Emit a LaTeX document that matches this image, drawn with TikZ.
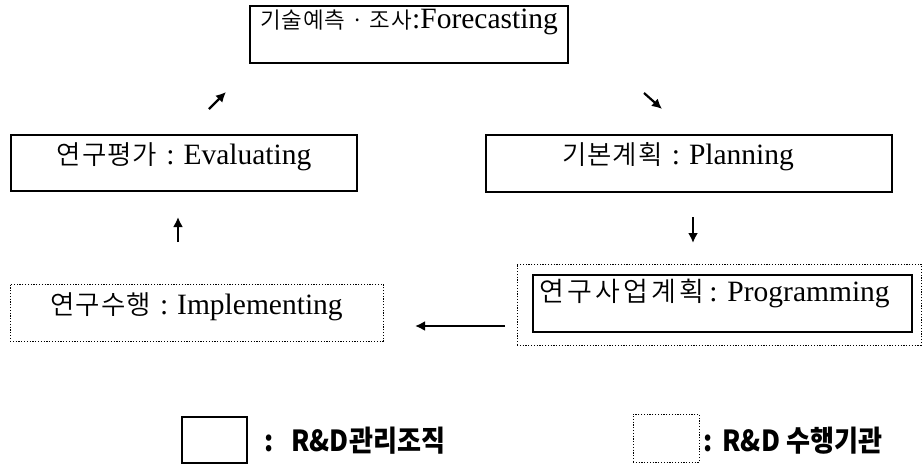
\documentclass[tikz,border=0pt]{standalone}
\usepackage{fontspec}
\setmainfont{Liberation Serif}
\newfontfamily\kr{Noto Sans CJK KR}[UprightFont=* DemiLight, LetterSpace=4]
\newfontfamily\krw{Noto Sans CJK KR}[UprightFont=* DemiLight, LetterSpace=12]
\newfontfamily\krb{Noto Sans CJK KR}[FakeStretch=0.9]
\usetikzlibrary{arrows.meta}
\newcommand\KR[2]{{\fontsize{#1}{#1}\selectfont\kr #2}}
\newcommand\KRW[2]{{\fontsize{#1}{#1}\selectfont\krw #2}}
\newcommand\sep{\hspace{9pt}:\hspace{9pt}}
\tikzset{
  sbox/.style={draw=black, line width=1.2pt, inner sep=0pt},
  dbox/.style={draw=black, line width=0.9pt, dash pattern=on 1.2pt off 1.6pt, inner sep=0pt},
  lbl/.style={font=\fontsize{29.5}{32}\selectfont},
  legt/.style={inner sep=0pt, anchor=west, font=\fontsize{29}{32}\selectfont\krb\bfseries},
  arr/.style={line width=2.2pt, -{Latex[length=10pt,width=10pt]}}
}
\begin{document}
\begin{tikzpicture}[x=1pt,y=-1pt]
\useasboundingbox (0,0) rectangle (922,466);
% boxes
\node[sbox, lbl, anchor=base, text height=22pt, text depth=35pt, minimum width=318pt] (F) at (409,28) {\KR{22.5}{기술예측 · 조사}:Forecasting};
\node[sbox, lbl, anchor=base, text height=29pt, text depth=27pt, minimum width=346pt] (E) at (184,164) {\KR{26.5}{연구평가}\sep Evaluating};
\node[sbox, lbl, anchor=base, text height=29pt, text depth=28pt, minimum width=406pt] (P) at (689,164) {\KR{26.5}{기본계획}\sep Planning\hspace*{22pt}};
\node[dbox, minimum width=404pt, minimum height=81pt] (PO) at (719,304.5) {};
\node[sbox, lbl, anchor=base, text height=26pt, text depth=31pt, minimum width=379pt] (PR) at (722.5,301) {\KRW{27}{연구사업계획}\,: Programming\hspace*{16pt}};
\node[dbox, lbl, anchor=base, text height=30pt, text depth=27pt, minimum width=373pt] (I) at (196.5,314) {\KR{26.5}{연구수행}\sep Implementing};
% arrows
\coordinate (a1) at (209,109); \coordinate (a2) at (226,92);
\coordinate (b1) at (644,93);  \coordinate (b2) at (662,109);
\coordinate (c1) at (178,242); \coordinate (c2) at (178,217);
\coordinate (d1) at (693,217); \coordinate (d2) at (693,243);
\coordinate (e1) at (505,326); \coordinate (e2) at (415,326);
\draw[arr] (a1) -- (a2);
\draw[arr] (b1) -- (b2);
\draw[arr] (c1) -- (c2);
\draw[arr] (d1) -- (d2);
\draw[arr] (e1) -- (e2);
% legend
\node[sbox, minimum width=65pt, minimum height=46pt] (L1) at (214.5,440) {};
\node[legt] (L1t) at (264,441) {:\hspace{18pt}R\&D관리조직};
\node[dbox, minimum width=66pt, minimum height=48pt] (L2) at (666,438) {};
\node[legt] (L2t) at (703,441) {:\hspace{10pt}R\&D 수행기관};
\end{tikzpicture}
\end{document}
